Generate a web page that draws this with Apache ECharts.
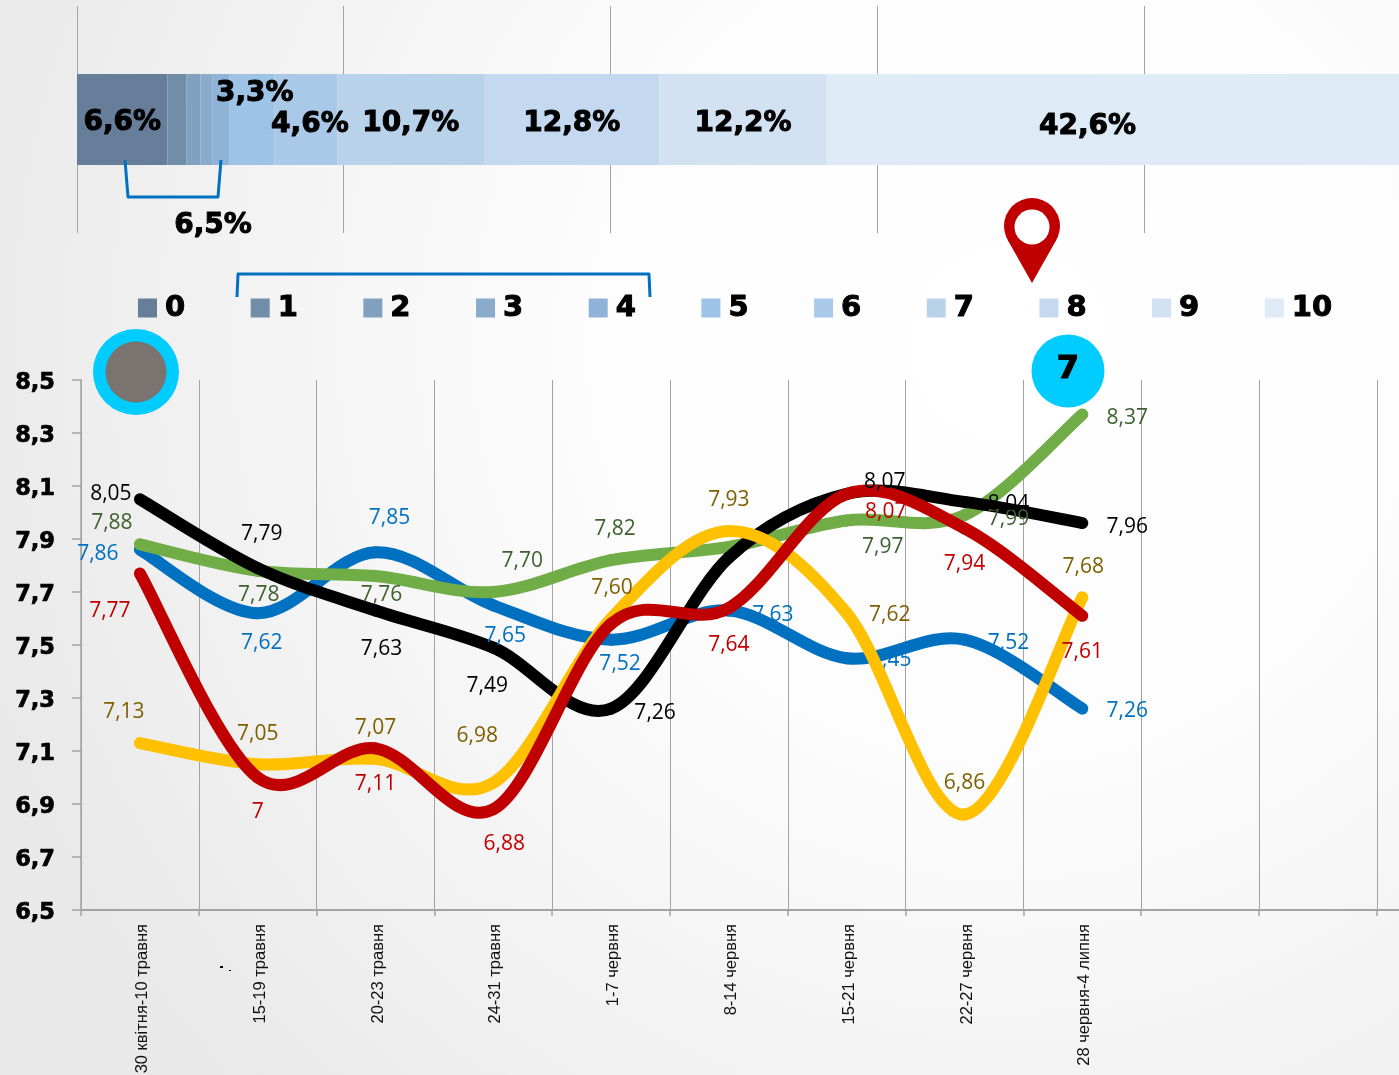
<!DOCTYPE html>
<html><head><meta charset="utf-8">
<style>html,body{margin:0;padding:0;overflow:hidden}#c{width:1399px;height:1075px}</style>
<script src="https://cdn.jsdelivr.net/npm/echarts@6/dist/echarts.min.js"></script>
</head><body><div id="c"></div>
<script>
const categories = ['30 квітня-10 травня','15-19 травня','20-23 травня','24-31 травня','1-7 червня','8-14 червня','15-21 червня','22-27 червня','28 червня-4 липня','','',''];
const yTicks = [6.5,6.7,6.9,7.1,7.3,7.5,7.7,7.9,8.1,8.3,8.5];

const blueValues   = [7.86,7.62,7.85,7.65,7.52,7.63,7.45,7.52,7.26];
const greenValues  = [7.88,7.78,7.76,7.70,7.82,7.87,7.97,7.99,8.37];
const blackValues  = [8.05,7.79,7.63,7.49,7.26,7.83,8.07,8.04,7.96];
const yellowValues = [7.13,7.05,7.07,6.98,7.60,7.93,7.62,6.86,7.68];
const redValues    = [7.77,7.00,7.11,6.88,7.58,7.64,8.07,7.94,7.61];

const shareNames  = ['0','1','2','3','4','5','6','7','8','9','10'];
const shareValues = [6.6,1.4,1.0,0.9,1.2,3.3,4.6,10.7,12.8,12.2,42.6];
const shareLabelled = [true,false,false,false,false,true,true,true,true,true,true];

/* label placement, separate from the values */
const blueOff   = [[-42,4],[4,30],[14,-34],[12,31],[9,24],[44,4],[44,2],[44,3],[45,2]];
const greenOff  = [[-28,-21],[1,24],[6,19],[29,-31],[4,-31],null,[36,27],[44,4],[45,4]];
const blackOff  = [[-29,-5],[4,-34],[6,38],[-6,38],[44,4],null,[38,-12],[44,2],[45,4]];
const yellowOff = [[-16,-31],[0,-30],[0,-31],[-16,-47],[1,-30],[0,-31],[43,2],[0,-32],[1,-30]];
const redOff    = [[-30,38],[0,35],[0,36],[11,35],null,[0,37],[39,18],[0,36],[0,36]];
const shareColors = ['#667e99','#718ea9','#81a2bf','#8aabcb','#8fb3d6','#9dc3e6','#aac9e8','#b8d2ea','#c4d9ef','#d3e2f3','#deeaf6'];
const shareOff = [[0,3],null,null,null,null,[3,-26],[4,5],[0,4],[0,4],[0,4],[-31,7]];

const bold = 'DejaVu Sans';
const grey = '#a3a3a3';
const comma = v => String(v).replace('.', ',');
const tension = 1 / 6;

/* line series: carries the values and their labels */
function labelSeries(name, values, offs, textColor, z) {
  return {
    type: 'line', name, xAxisIndex: 0, yAxisIndex: 0, z,
    symbol: 'circle', symbolSize: 1, showSymbol: true,
    itemStyle: { color: 'rgba(0,0,0,0)' },
    lineStyle: { width: 0, opacity: 0 },
    data: values.map((v, i) => ({
      value: v,
      label: offs[i] ? {
        show: true, position: 'inside', offset: offs[i], color: textColor,
        fontFamily: 'Open Sans', fontSize: 21, align: 'center', verticalAlign: 'middle',
        formatter: () => v === Math.round(v) ? String(v) : v.toFixed(2).replace('.', ',')
      } : { show: false }
    }))
  };
}

/* curve drawn through the axis scales, one spline span per data item */
function curveSeries(name, values, color, z) {
  return {
    type: 'custom', name: name + ' (крива)', xAxisIndex: 0, yAxisIndex: 0, z, clip: false, silent: true,
    data: values.map((v, i) => [i, v]),
    encode: { x: 0, y: 1 },
    renderItem(params, api) {
      const i = params.dataIndex;
      if (i >= values.length - 1) return null;
      const at = j => { const k = Math.max(0, Math.min(values.length - 1, j)); return api.coord([k, values[k]]); };
      const p0 = at(i - 1), p1 = at(i), p2 = at(i + 1), p3 = at(i + 2);
      return {
        type: 'bezierCurve',
        shape: {
          x1: p1[0], y1: p1[1], x2: p2[0], y2: p2[1],
          cpx1: p1[0] + (p2[0] - p0[0]) * tension, cpy1: p1[1] + (p2[1] - p0[1]) * tension,
          cpx2: p2[0] - (p3[0] - p1[0]) * tension, cpy2: p2[1] - (p3[1] - p1[1]) * tension
        },
        style: { stroke: color, lineWidth: 12, fill: null, lineCap: 'round' }
      };
    }
  };
}

const barSeries = shareNames.map((n, i) => ({
  type: 'bar', name: n, stack: 'share', xAxisIndex: 1, yAxisIndex: 1, barWidth: 91,
  itemStyle: { color: shareColors[i] }, silent: true, z: 2,
  data: [shareValues[i]],
  label: shareLabelled[i] ? {
    show: true, position: 'inside', offset: shareOff[i], color: '#000',
    fontFamily: bold, fontWeight: 'bold', fontSize: 28, textBorderColor: '#000', textBorderWidth: 1,
    formatter: () => comma(shareValues[i]) + '%'
  } : { show: false }
}));

const blue = '#0070c0';
const chart = echarts.init(document.getElementById('c'), null, { renderer: 'canvas' });
chart.setOption({
  animation: false,
  backgroundColor: new echarts.graphic.RadialGradient(0.72, 0.32, 1, [
    { offset: 0, color: '#ffffff' }, { offset: 0.4, color: '#fcfcfc' }, { offset: 0.7, color: '#f3f3f3' }, { offset: 1, color: '#e9e9e9' }
  ]),
  legend: {
    left: 138, top: 293, padding: 0, icon: 'rect', itemWidth: 19, itemHeight: 19, itemGap: 65,
    data: shareNames, selectedMode: false,
    textStyle: { fontFamily: bold, fontWeight: 'bold', fontSize: 29, color: '#000', textBorderColor: '#000', textBorderWidth: 1, padding: [0, 0, 0, 3] }
  },
  grid: [
    { left: 81, top: 380, width: 1413.6, height: 530, outerBoundsMode: 'none' },
    { left: 77, top: 6, width: 1333.5, height: 227, outerBoundsMode: 'none' }
  ],
  xAxis: [
    { type: 'category', gridIndex: 0, data: categories, boundaryGap: true,
      axisLine: { lineStyle: { color: grey, width: 2 } },
      axisTick: { show: true, length: 6, lineStyle: { color: grey, width: 1.5 } },
      splitLine: { show: true, interval: 0, lineStyle: { color: grey, width: 1 } },
      axisLabel: { interval: 0, rotate: 90, margin: 14,
        formatter: v => v ? '{a|' + v + '}' : '',
        rich: { a: { padding: [5, 0, 0, 0], fontFamily: 'Liberation Sans', fontSize: 16.5, color: '#111' } } } },
    { type: 'value', gridIndex: 1, min: 0, max: 97.3, interval: 19.46,
      axisLine: { show: false }, axisTick: { show: false }, axisLabel: { show: false },
      splitLine: { show: true, lineStyle: { color: grey, width: 1 } } }
  ],
  yAxis: [
    { type: 'value', gridIndex: 0, min: 6.5, max: 8.5,
      axisLine: { show: true, lineStyle: { color: grey, width: 1.5 } },
      axisTick: { show: true, length: 9, customValues: yTicks, lineStyle: { color: grey, width: 1.5 } },
      axisLabel: { margin: 26, customValues: yTicks,
        formatter: v => '{a|' + v.toFixed(1).replace('.', ',') + '}',
        rich: { a: { padding: [6, 0, 0, 0], fontFamily: bold, fontWeight: 'bold', fontSize: 22.5, color: '#000', textBorderColor: '#000', textBorderWidth: 0.7 } } },
      splitLine: { show: false } },
    { type: 'category', gridIndex: 1, data: ['share'], show: false }
  ],
  series: [
    ...barSeries,
    curveSeries('Синя', blueValues, '#0070c0', 3),
    curveSeries('Зелена', greenValues, '#70ad47', 4),
    curveSeries('Чорна', blackValues, '#000000', 5),
    curveSeries('Жовта', yellowValues, '#ffc000', 6),
    curveSeries('Червона', redValues, '#c00000', 7),
    labelSeries('Синя', blueValues, blueOff, '#0070c0', 5.5),
    labelSeries('Зелена', greenValues, greenOff, '#3f6130', 10),
    labelSeries('Чорна', blackValues, blackOff, '#000000', 10),
    labelSeries('Жовта', yellowValues, yellowOff, '#7f6000', 10),
    labelSeries('Червона', redValues, redOff, '#c00000', 10)
  ],
  graphic: [
    { type: 'polyline', z: 20, shape: { points: [[125,160],[128,197],[218,197],[221,160]] },
      style: { stroke: blue, lineWidth: 3, fill: null, lineJoin: 'round' } },
    { type: 'polyline', z: 20, shape: { points: [[237,297],[238,274],[649,274],[650,297]] },
      style: { stroke: blue, lineWidth: 3, fill: null, lineJoin: 'round' } },
    { type: 'text', z: 20, x: 213, y: 226, style: { text: '6,5%', fill: '#000', stroke: '#000', lineWidth: 1, font: 'bold 28px "DejaVu Sans"', align: 'center', verticalAlign: 'middle' } },
    { type: 'circle', z: 20, shape: { cx: 136, cy: 372, r: 43 }, style: { fill: '#00ccff' } },
    { type: 'circle', z: 21, shape: { cx: 136, cy: 372, r: 30.5 }, style: { fill: '#7b7370' } },
    { type: 'circle', z: 20, shape: { cx: 1068, cy: 371, r: 36.5 }, style: { fill: '#00ccff' } },
    { type: 'text', z: 21, x: 1068, y: 370, style: { text: '7', fill: '#000', stroke: '#000', lineWidth: 1.2, font: 'bold 32px "DejaVu Sans"', align: 'center', verticalAlign: 'middle' } },
    { type: 'circle', z: 20, shape: { cx: 1032, cy: 226, r: 28 }, style: { fill: '#c00000' } },
    { type: 'polygon', z: 20, shape: { points: [[1007.6,239.8],[1032,283],[1056.4,239.8]] }, style: { fill: '#c00000' } },
    { type: 'circle', z: 21, shape: { cx: 1032, cy: 227, r: 17.5 }, style: { fill: '#ffffff' } },
    { type: 'rect', z: 20, shape: { x: 220, y: 966, width: 3, height: 2 }, style: { fill: '#000' } },
    { type: 'rect', z: 20, shape: { x: 229, y: 970, width: 2, height: 1 }, style: { fill: '#000' } }
  ]
});
</script></body></html>
